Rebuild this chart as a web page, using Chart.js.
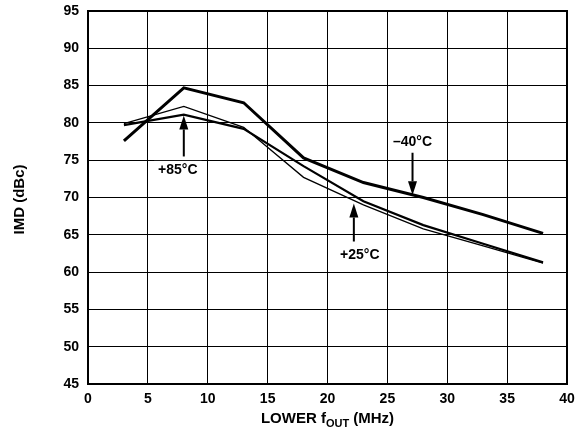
<!DOCTYPE html>
<html>
<head>
<meta charset="utf-8">
<script src="https://cdn.jsdelivr.net/npm/chart.js@4"></script>
<style>
  html, body { margin: 0; padding: 0; background: #fff; }
  #wrap { width: 582px; height: 442px; }
</style>
</head>
<body>
<div id="wrap"><canvas id="imdChart" width="582" height="442"></canvas></div>
<script>
// output frequency (MHz) where IMD was measured
const freqs = [3, 8, 13, 18, 23, 28, 33, 38];

// IMD (dBc) per temperature
const imdMinus40 = [77.6, 84.7, 82.7, 75.3, 72.0, 70.0, 67.7, 65.2];
const imdPlus85 = [79.7, 81.1, 79.2, 74.2, 69.5, 66.3, 63.8, 61.3];
const imdPlus25 = [79.9, 82.2, 79.4, 72.7, 69.0, 65.8, 63.5, 61.2];

// tick labels
const xTicks = [0, 5, 10, 15, 20, 25, 30, 35, 40];
const yTicks = [45, 50, 55, 60, 65, 70, 75, 80, 85, 90, 95];

// temperature call-outs (data coordinates)
const callouts = [
    { text: '+85°C', lx: 7.5, ly: 73.7, ax: 8.0, from: 75.5, to: 81.0 },
    { text: '\u201340°C', lx: 27.1, ly: 77.4, ax: 27.1, from: 76.0, to: 70.3 },
    { text: '+25°C', lx: 22.7, ly: 62.3, ax: 22.2, from: 64.1, to: 69.2 }
];

const FONT = '"Liberation Sans", Arial, Helvetica, sans-serif';

function toPoints(ys) {
    return freqs.map((f, i) => ({ x: f, y: ys[i] }));
}

// frame, call-outs and axis titles
const decorPlugin = {
    id: 'decor',
    afterDatasetsDraw(chart) {
        const ctx = chart.ctx;
        const xs = chart.scales.x;
        const ys = chart.scales.y;
        const area = chart.chartArea;

        ctx.save();
        ctx.strokeStyle = '#000';
        ctx.lineWidth = 2;
        ctx.strokeRect(area.left, area.top, area.right - area.left, area.bottom - area.top);

        // call-outs
        ctx.font = 'bold 14px ' + FONT;
        ctx.textAlign = 'center';
        ctx.textBaseline = 'middle';
        callouts.forEach(c => {
            const lx = xs.getPixelForValue(c.lx);
            const ly = ys.getPixelForValue(c.ly);
            const w = ctx.measureText(c.text).width;
            ctx.fillStyle = '#fff';
            ctx.fillRect(lx - w / 2 - 4, ly - 9, w + 8, 18);
            ctx.fillStyle = '#000';
            ctx.fillText(c.text, lx, ly);

            const ax = xs.getPixelForValue(c.ax);
            const y0 = ys.getPixelForValue(c.from);
            const y1 = ys.getPixelForValue(c.to);
            const dir = y1 < y0 ? -1 : 1;
            const head = 14;
            ctx.lineWidth = 2;
            ctx.beginPath();
            ctx.moveTo(ax, y0);
            ctx.lineTo(ax, y1 - dir * head);
            ctx.stroke();
            ctx.beginPath();
            ctx.moveTo(ax, y1);
            ctx.lineTo(ax - 4.5, y1 - dir * head);
            ctx.lineTo(ax + 4.5, y1 - dir * head);
            ctx.closePath();
            ctx.fill();
        });

        // y title
        ctx.font = 'bold 15px ' + FONT;
        ctx.save();
        ctx.translate(20, (area.top + area.bottom) / 2 + 2);
        ctx.rotate(-Math.PI / 2);
        ctx.fillText('IMD (dBc)', 0, 0);
        ctx.restore();

        // x title with subscript
        const big = 'bold 15px ' + FONT;
        const small = 'bold 11px ' + FONT;
        const p1 = 'LOWER f', p2 = 'OUT', p3 = ' (MHz)';
        ctx.font = big;
        const w1 = ctx.measureText(p1).width;
        const w3 = ctx.measureText(p3).width;
        ctx.font = small;
        const w2 = ctx.measureText(p2).width;
        let x = (area.left + area.right) / 2 - (w1 + w2 + w3) / 2;
        const base = 423;
        ctx.textAlign = 'left';
        ctx.textBaseline = 'alphabetic';
        ctx.font = big;
        ctx.fillText(p1, x, base);
        x += w1;
        ctx.font = small;
        ctx.fillText(p2, x, base + 4);
        x += w2;
        ctx.font = big;
        ctx.fillText(p3, x, base);
        ctx.restore();
    }
};

function lineSet(label, data, width) {
    return {
        label: label,
        data: toPoints(data),
        borderColor: '#000',
        backgroundColor: '#000',
        borderWidth: width,
        pointRadius: 0,
        tension: 0,
        fill: false
    };
}

new Chart(document.getElementById('imdChart'), {
    type: 'line',
    data: {
        datasets: [
            lineSet('-40°C', imdMinus40, 3),
            lineSet('+85°C', imdPlus85, 2.2),
            lineSet('+25°C', imdPlus25, 1.3)
        ]
    },
    options: {
        responsive: false,
        animation: false,
        events: [],
        layout: { padding: { top: 11, right: 15, left: 0, bottom: 0 } },
        plugins: {
            legend: { display: false },
            tooltip: { enabled: false }
        },
        scales: {
            x: {
                type: 'linear',
                min: 0,
                max: 40,
                afterBuildTicks: s => { s.ticks = xTicks.map(v => ({ value: v })); },
                afterFit: s => { s.height = 58; s.paddingLeft = 0; s.paddingRight = 0; },
                grid: { color: '#000', lineWidth: 1, drawTicks: false },
                border: { display: false },
                ticks: {
                    color: '#000',
                    padding: 7,
                    maxRotation: 0,
                    font: { family: FONT, size: 14, weight: 'bold' }
                }
            },
            y: {
                type: 'linear',
                min: 45,
                max: 95,
                afterBuildTicks: s => { s.ticks = yTicks.map(v => ({ value: v })); },
                afterFit: s => { s.width = 88; s.paddingTop = 0; s.paddingBottom = 0; },
                grid: { color: '#000', lineWidth: 1, drawTicks: false },
                border: { display: false },
                ticks: {
                    color: '#000',
                    padding: 9,
                    font: { family: FONT, size: 14, weight: 'bold' }
                }
            }
        }
    },
    plugins: [decorPlugin]
});
</script>
</body>
</html>
